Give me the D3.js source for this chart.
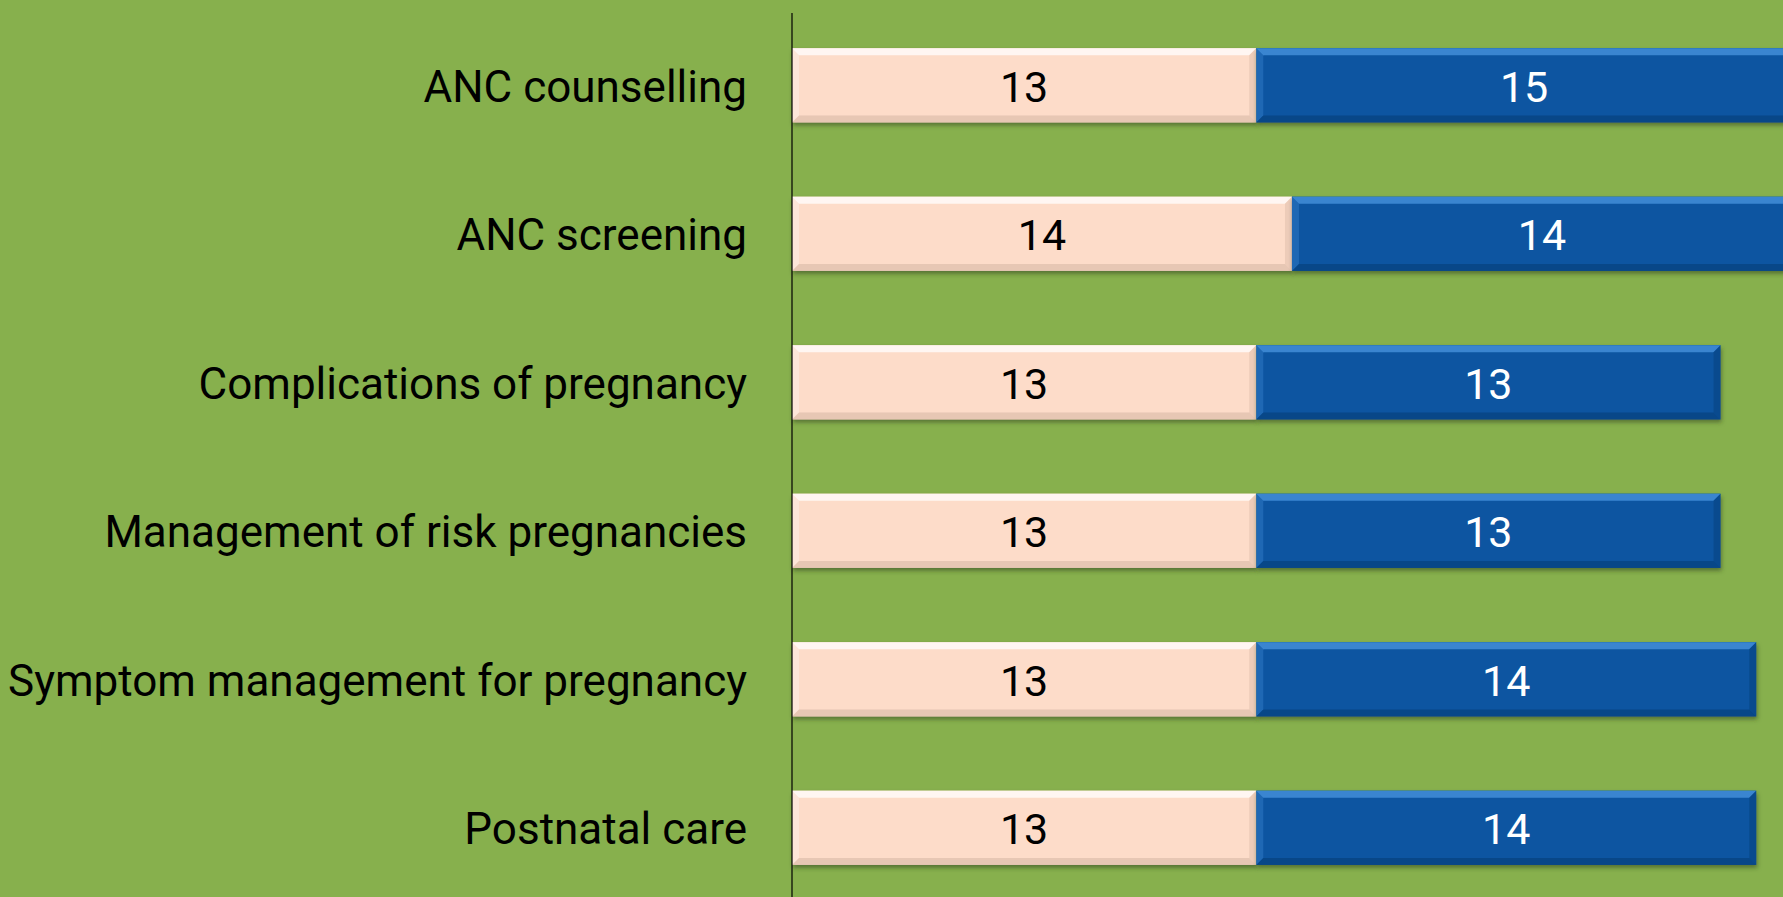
<!DOCTYPE html>
<meta charset="utf-8">
<script src="https://d3js.org/d3.v7.min.js"></script>
<style>
  body { margin: 0; background: #87B04D; overflow: hidden; }
  .cat text { font-family: Roboto, sans-serif; font-size: 44px; fill: #000; }
  .val { font-family: Roboto, sans-serif; font-size: 43px; }
</style>
<div id="chart"></div>
<script>
// chart data
const categories = ["ANC counselling", "ANC screening", "Complications of pregnancy",
  "Management of risk pregnancies", "Symptom management for pregnancy", "Postnatal care"];
const seriesA = [13, 14, 13, 13, 13, 13];   // pink segment
const seriesB = [15, 14, 13, 13, 14, 14];   // blue segment

const width = 1783, height = 897;

const svg = d3.select("#chart").append("svg")
  .attr("width", width)
  .attr("height", height);

svg.append("rect").attr("width", width).attr("height", height).attr("fill", "#87B04D");

const defs = svg.append("defs");
defs.append("filter").attr("id", "shadow")
  .attr("x", "-5%").attr("y", "-20%").attr("width", "110%").attr("height", "160%")
  .append("feDropShadow")
  .attr("dx", 1).attr("dy", 3).attr("stdDeviation", 2)
  .attr("flood-color", "#2f3d1a").attr("flood-opacity", 0.55);

const x = d3.scaleLinear().domain([0, 26]).range([792, 1720.5]);
const y = d3.scaleBand().domain(categories).range([11, 902])
  .paddingInner(0.5).paddingOuter(0.25);

const rows = categories.map((c, i) => ({ cat: c, a: seriesA[i], b: seriesB[i] }));

const segs = [
  { key: "a", x0: d => 0, x1: d => d.a, fill: "#FDDCC9", light: "#FFFFFF", dark: "#D9B9A6", text: "#000" },
  { key: "b", x0: d => d.a, x1: d => d.a + d.b, fill: "#0754A1", light: "#4A95E0", dark: "#053E78", text: "#fff" }
];

segs.forEach(s => {
  const g = svg.append("g").attr("class", "seg-" + s.key);
  const bars = g.selectAll("g").data(rows).join("g");
  const bev = 7;
  // main face with shadow
  bars.append("rect")
    .attr("x", d => x(s.x0(d)))
    .attr("y", d => y(d.cat))
    .attr("width", d => x(s.x1(d)) - x(s.x0(d)))
    .attr("height", y.bandwidth())
    .attr("fill", s.fill)
    .attr("filter", "url(#shadow)");
  // top bevel highlight
  bars.append("path")
    .attr("d", d => {
      const l = x(s.x0(d)), r = x(s.x1(d)), t = y(d.cat);
      return `M${l},${t}L${r},${t}L${r - bev},${t + bev}L${l + bev},${t + bev}Z`;
    })
    .attr("fill", s.light).attr("opacity", 0.75);
  // left bevel highlight
  bars.append("path")
    .attr("d", d => {
      const l = x(s.x0(d)), t = y(d.cat), b = t + y.bandwidth();
      return `M${l},${t}L${l + bev},${t + bev}L${l + bev},${b - bev}L${l},${b}Z`;
    })
    .attr("fill", s.light).attr("opacity", 0.3);
  // bottom bevel shade
  bars.append("path")
    .attr("d", d => {
      const l = x(s.x0(d)), r = x(s.x1(d)), b = y(d.cat) + y.bandwidth();
      return `M${l},${b}L${r},${b}L${r - bev},${b - bev}L${l + bev},${b - bev}Z`;
    })
    .attr("fill", s.dark).attr("opacity", 0.6);
  // right bevel shade
  bars.append("path")
    .attr("d", d => {
      const r = x(s.x1(d)), t = y(d.cat), b = t + y.bandwidth();
      return `M${r},${t}L${r},${b}L${r - bev},${b - bev}L${r - bev},${t + bev}Z`;
    })
    .attr("fill", s.dark).attr("opacity", 0.45);
  // value labels
  bars.append("text")
    .attr("class", "val")
    .attr("x", d => (x(s.x0(d)) + x(s.x1(d))) / 2)
    .attr("y", d => y(d.cat) + y.bandwidth() / 2)
    .attr("dy", "0.38em")
    .attr("text-anchor", "middle")
    .attr("fill", s.text)
    .text(d => d[s.key]);
});

// category axis
const yAxis = svg.append("g")
  .attr("class", "cat")
  .attr("transform", `translate(${x(0)},0)`)
  .call(d3.axisLeft(y).tickSize(0).tickPadding(45));
yAxis.select(".domain").remove();
yAxis.selectAll("text").attr("dy", "0.38em");

svg.append("line")
  .attr("x1", x(0)).attr("x2", x(0))
  .attr("y1", 13).attr("y2", height)
  .attr("stroke", "#000").attr("stroke-width", 1.2);
</script>
